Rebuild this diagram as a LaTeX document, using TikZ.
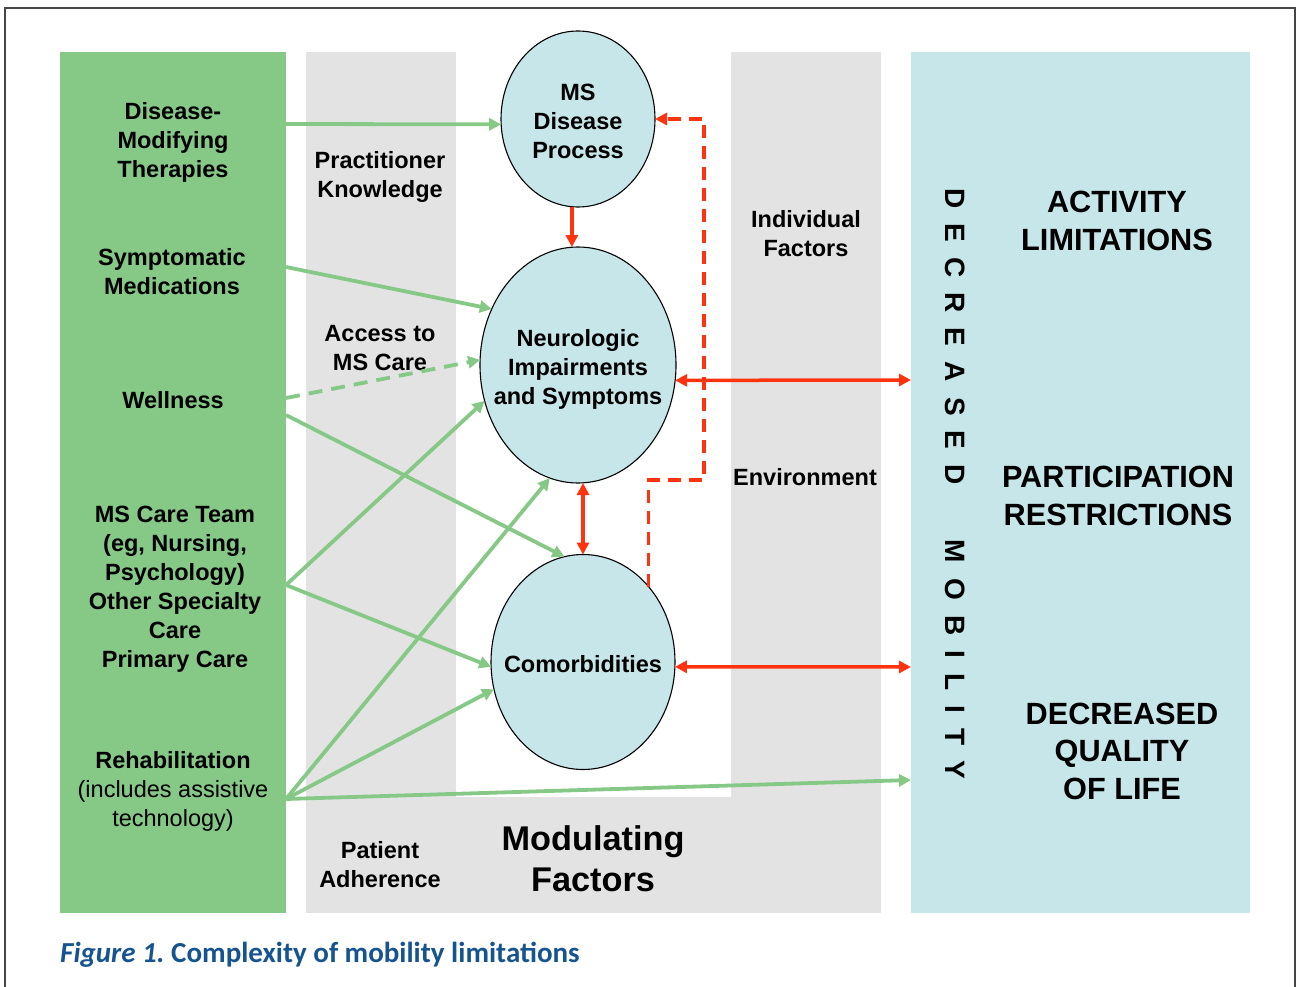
\documentclass[tikz,border=0pt]{standalone}
\usepackage{fontspec}
\setmainfont{Liberation Sans}
\newfontfamily\capfont{Carlito}
\newfontfamily\spacedfont[LetterSpace=54]{Liberation Sans}
\usepackage{tikz}
\usetikzlibrary{shapes.geometric,arrows.meta}

\definecolor{bandgreen}{RGB}{134,201,135}
\definecolor{bandgray}{RGB}{227,227,227}
\definecolor{bandblue}{RGB}{198,230,233}
\definecolor{linkred}{RGB}{255,51,13}
\definecolor{capblue}{RGB}{22,84,144}
\definecolor{framegray}{RGB}{70,70,70}

\tikzset{
  txt/.style={align=center,inner sep=0,font=\bfseries\fontsize{23.5}{29}\selectfont},
  bigtxt/.style={align=center,inner sep=0,font=\bfseries\fontsize{30.7}{37.5}\selectfont},
  factor/.style={ellipse,draw=black,line width=1.1pt,fill=bandblue,inner sep=0,outer sep=0},
  gline/.style={draw=bandgreen,line width=3.8pt,-{Triangle[length=12pt,width=12pt]}},
  rline/.style={draw=linkred,line width=3.5pt,-{Triangle[length=12pt,width=12pt]}},
  rboth/.style={rline,{Triangle[length=12pt,width=12pt]}-{Triangle[length=12pt,width=12pt]}},
}

\begin{document}
\begin{tikzpicture}[x=1pt,y=-1pt]
    \useasboundingbox (0,0) rectangle (1298,987);
    \draw[framegray,line width=1.5pt] (5,990) -- (5,8) -- (1295,8) -- (1295,990);

    % bands
    \fill[bandgreen] (60,52) rectangle (286,913);
    \fill[bandgray] (306,52) rectangle (456,913);
    \fill[bandgray] (731,52) rectangle (881,913);
    \fill[bandgray] (306,797) rectangle (881,913);
    \fill[bandblue] (911,52) rectangle (1250,913);

    % interventions
    \node[txt] (dmt) at (173,142) {Disease-\\Modifying\\Therapies};
    \node[txt] (symp) at (172,272) {Symptomatic\\Medications};
    \node[txt] (well) at (173,400) {Wellness};
    \node[txt] (team) at (175,589) {MS Care Team\\(eg, Nursing,\\Psychology)\\Other Specialty\\Care\\Primary Care};
    \node[txt] (rehab) at (173,791) {Rehabilitation\\{\mdseries(includes assistive}\\{\mdseries technology)}};

    % modulating factors
    \node[txt] (prac) at (380,177) {Practitioner\\Knowledge};
    \node[txt] (access) at (380,348) {Access to\\MS Care};
    \node[txt] (adher) at (380,865) {Patient\\Adherence};
    \node[txt] (indiv) at (806,234) {Individual\\Factors};
    \node[txt] (env) at (805,477) {Environment};
    \node[align=center,inner sep=0,font=\bfseries\fontsize{34.3}{41}\selectfont] (modfac) at (593,859) {Modulating\\Factors};

    % outcomes
    \node[bigtxt] (act) at (1117,221) {ACTIVITY\\LIMITATIONS};
    \node[bigtxt] (part) at (1118,496) {PARTICIPATION\\RESTRICTIONS};
    \node[bigtxt] (qol) at (1122,751) {DECREASED\\QUALITY\\OF LIFE};
    \node[rotate=-90,anchor=west,inner sep=0,font=\spacedfont\bfseries\fontsize{28}{28}\selectfont] (mobility) at (955,188) {DECREASED\hspace{32pt} MOBILITY};

    % disease
    \node[factor,minimum width=154,minimum height=176] (ms) at (578,119) {};
    \node[txt] at ([yshift=-2]ms.center) {MS\\Disease\\Process};
    \node[factor,minimum width=196,minimum height=236] (neuro) at (578,365) {};
    \node[txt] at ([yshift=-4]neuro.center) {Neurologic\\Impairments\\and Symptoms};
    \node[factor,minimum width=184,minimum height=215] (com) at (583,662) {};
    \node[txt] at ([yshift=-2]com.center) {Comorbidities};

    \coordinate (dmt-out) at (286,124);
    \coordinate (symp-out) at (286,267);
    \coordinate (well-out) at (286,398);
    \coordinate (well-low) at (286,415);
    \coordinate (team-out) at (286,585);
    \coordinate (rehab-out) at (286,799);
    \coordinate (act-in) at (911,380);
    \coordinate (part-in) at (911,667);
    \coordinate (qol-in) at (911,780);
    \coordinate (loop-turn) at (704,480);

    \draw[gline] (dmt-out) -- (ms.184);
    \draw[gline] (symp-out) -- (neuro.147);
    \draw[gline,dash pattern=on 14pt off 9pt] (well-out) -- (neuro.177);
    \draw[gline] (well-low) -- (com.100);
    \draw[gline] (team-out) -- (neuro.201);
    \draw[gline] (team-out) -- (com.183);
    \draw[gline] (rehab-out) -- (neuro.256);
    \draw[gline] (rehab-out) -- (com.197);
    \draw[gline] (rehab-out) -- (qol-in);

    \draw[rline] (ms.266) -- (ms.266 |- neuro.north);
    \draw[rboth] (com.north |- neuro.south) -- (com.north);
    \draw[rboth] (neuro.351) -- (act-in);
    \draw[rboth] (com.357) -- (part-in);
    \draw[rline,dash pattern=on 13pt off 8pt] (com.49) |- (loop-turn) |- (ms.east);

    \node[anchor=base west,inner sep=0,text=capblue,font=\capfont\bfseries\fontsize{29}{29}\selectfont] (caption) at (60,962) {\itshape Figure 1.\ \upshape Complexity of mobility limitations};
\end{tikzpicture}
\end{document}
